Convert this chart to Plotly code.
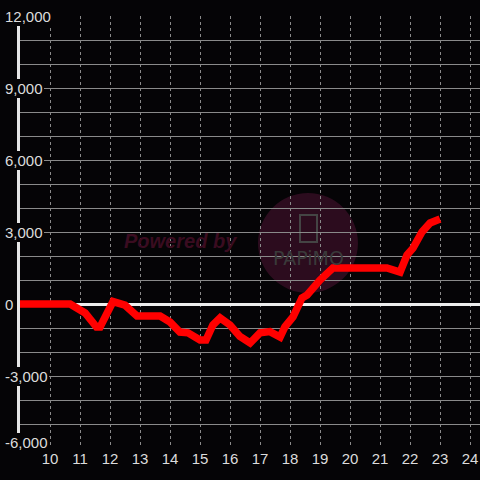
import plotly.graph_objects as go

# ---- data ----
hours = [9.0, 10.67, 11.17, 11.55, 11.67, 12.1, 12.5, 12.9, 13.67, 14.0, 14.33, 14.6,
         15.0, 15.2, 15.43, 15.67, 16.0, 16.33, 16.67, 17.0, 17.33, 17.67, 17.83, 18.1,
         18.4, 18.57, 19.0, 19.43, 21.23, 21.67, 21.9, 22.1, 22.4, 22.67, 23.0]
values = [0, 0, -375, -960, -960, 100, -50, -500, -500, -750, -1170, -1200,
          -1500, -1500, -875, -580, -875, -1350, -1625, -1200, -1150, -1375, -950, -540,
          250, 375, 1000, 1500, 1500, 1330, 2040, 2330, 3000, 3375, 3540]
x_ticks = list(range(10, 25))
y_tick_vals = [12000, 9000, 6000, 3000, 0, -3000, -6000]
y_tick_text = ["12,000", "9,000", "6,000", "3,000", "0", "-3,000", "-6,000"]

BG = "#050406"
GRID = "#8a8a8a"
LABEL = "#dcdcdc"
FONT = "Liberation Sans, Arial, sans-serif"

fig = go.Figure()
fig.add_trace(go.Scatter(x=hours, y=values, mode="lines",
                         line=dict(color="#ff0000", width=7.5), hoverinfo="skip"))

fig.update_layout(
    width=480, height=480,
    margin=dict(l=20, r=0, t=16, b=32, autoexpand=False),
    paper_bgcolor=BG, plot_bgcolor=BG,
    showlegend=False,
    font=dict(family=FONT, size=15, color=LABEL),
    xaxis=dict(range=[9, 9 + 460 / 30], tickvals=x_ticks, ticktext=[str(v) for v in x_ticks],
               showgrid=True, gridcolor=GRID, gridwidth=1, griddash="3px,3px",
               zeroline=False, showline=False, ticks="", automargin=False,
               tickfont=dict(family=FONT, size=15, color=LABEL)),
    yaxis=dict(range=[-6000, 12000], dtick=1000, tick0=0, automargin=False,
               showgrid=True, gridcolor=GRID, gridwidth=1,
               zeroline=True, zerolinecolor="#eeeeee", zerolinewidth=3,
               showline=True, linecolor="#e6e6e6", linewidth=3,
               showticklabels=False, ticks=""),
)

# watermark (behind grid)
fig.add_shape(type="circle", xref="paper", yref="paper",
              x0=0.626 - 0.1087, x1=0.626 + 0.1087, y0=0.4745 - 0.1157, y1=0.4745 + 0.1157,
              fillcolor="#2c0c1e", line=dict(width=0), layer="below")
fig.add_shape(type="rect", xref="paper", yref="paper",
              x0=(300 - 20) / 460, x1=(317 - 20) / 460, y0=(448 - 242) / 432, y1=(448 - 215) / 432,
              fillcolor="rgba(0,0,0,0)", line=dict(color="#444444", width=2), layer="below")
fig.add_annotation(text="<b><i>Powered by</i></b>", xref="paper", yref="paper",
                   x=(180 - 20) / 460, y=(448 - 241) / 432, showarrow=False,
                   font=dict(family=FONT, size=20, color="#3a0c20"))
fig.add_annotation(text="PAPiMO", xref="paper", yref="paper",
                   x=(308 - 20) / 460, y=(448 - 258) / 432, showarrow=False,
                   font=dict(family="DejaVu Sans, sans-serif", size=19, color="#3a3a3a"))

# y tick labels with background (cover axis line / gridlines as in reference)
for v, t in zip(y_tick_vals, y_tick_text):
    fig.add_annotation(text=t, xref="paper", yref="y", x=(4 - 20) / 460, y=v,
                       xanchor="left", yanchor="middle", showarrow=False,
                       bgcolor=BG, borderpad=1, borderwidth=0,
                       yshift=6 if v == y_tick_vals[-1] else 0,
                       font=dict(family=FONT, size=15, color=LABEL))

fig.write_html("out.html", config={"displayModeBar": False})

# remove default browser page margin so the figure sits at (0, 0)
with open("out.html", encoding="utf-8") as f:
    html = f.read()
html = html.replace("<head>", "<head><style>html,body{margin:0;padding:0;background:%s;}</style>" % BG, 1)
with open("out.html", "w", encoding="utf-8") as f:
    f.write(html)
